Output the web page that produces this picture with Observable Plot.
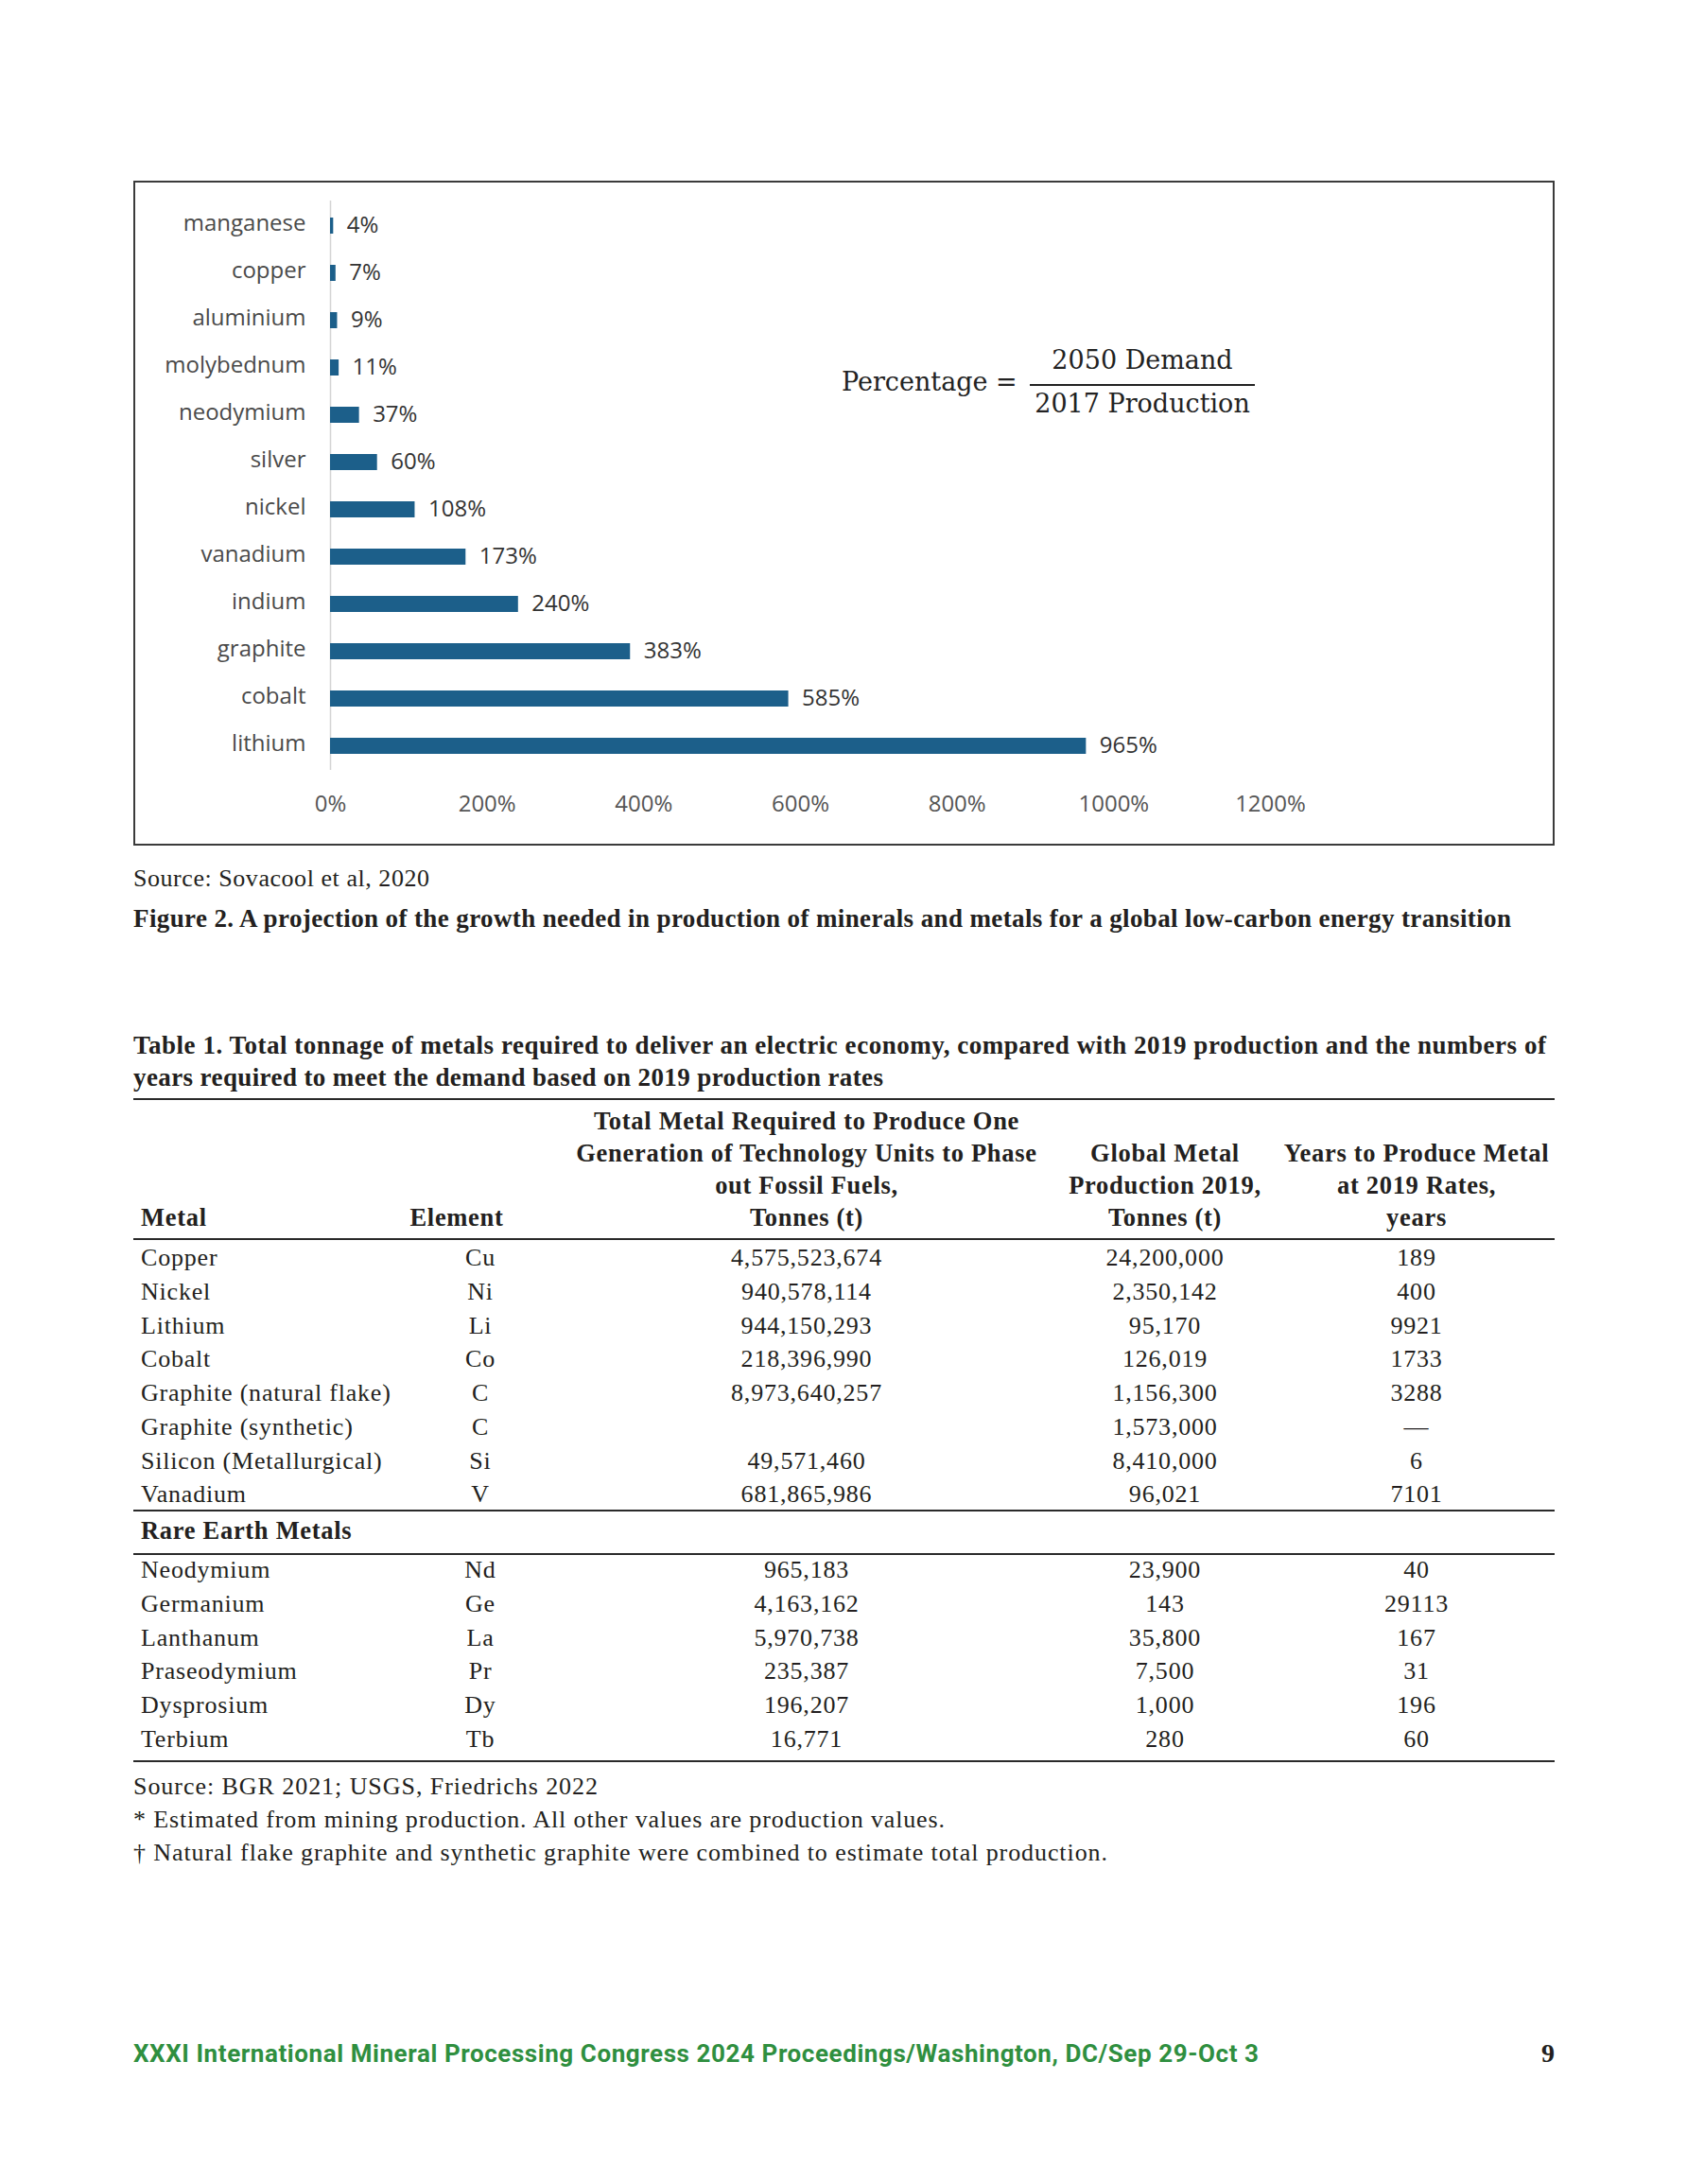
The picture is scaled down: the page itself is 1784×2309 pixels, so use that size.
<!DOCTYPE html>
<html><head><meta charset="utf-8">
<script src="https://cdn.jsdelivr.net/npm/d3@7"></script>
<script src="https://cdn.jsdelivr.net/npm/@observablehq/plot@0.6"></script>
<style>
html,body{margin:0;padding:0;background:#fff;}
#page{position:relative;width:1784px;height:2309px;overflow:hidden;background:#fff;}
#chartbox{position:absolute;left:141px;top:191px;width:1503px;height:703px;border:2px solid #3b3b3b;box-sizing:border-box;}
#chart{position:absolute;left:0;top:0;}
#overlay{position:absolute;left:0;top:0;pointer-events:none;}
</style></head><body>
<div id="page"><div id="chartbox"><div id="chart"></div></div><svg id="overlay" width="1784" height="2309"></svg></div>
<script>
// ---- Chart data (Figure 2) ----
const minerals = ["manganese","copper","aluminium","molybednum","neodymium","silver","nickel","vanadium","indium","graphite","cobalt","lithium"];
const percentages = [4,7,9,11,37,60,108,173,240,383,585,965];
const xTicks = [0,200,400,600,800,1000,1200];

// ---- Table 1 data ----
const metals = ["Copper","Nickel","Lithium","Cobalt","Graphite (natural flake)","Graphite (synthetic)","Silicon (Metallurgical)","Vanadium"];
const elements = ["Cu","Ni","Li","Co","C","C","Si","V"];
const totalRequired = [4575523674,940578114,944150293,218396990,8973640257,null,49571460,681865986];
const production2019 = [24200000,2350142,95170,126019,1156300,1573000,8410000,96021];
const yearsToProduce = [189,400,9921,1733,3288,null,6,7101];
const rareMetals = ["Neodymium","Germanium","Lanthanum","Praseodymium","Dysprosium","Terbium"];
const rareElements = ["Nd","Ge","La","Pr","Dy","Tb"];
const rareTotal = [965183,4163162,5970738,235387,196207,16771];
const rareProduction = [23900,143,35800,7500,1000,280];
const rareYears = [40,29113,167,31,196,60];

const chartData = minerals.map((m,i)=>({mineral:m, pct:percentages[i]}));

const plot = Plot.plot({
  width: 1499, height: 699,
  marginLeft: 206, marginRight: 299, marginTop: 19, marginBottom: 78,
  style: {fontFamily: "'Open Sans', sans-serif", fontSize: "24px", color: "#404040", background: "transparent"},
  x: {domain: [0, 1200], axis: null},
  y: {domain: minerals, paddingInner: 0.66, paddingOuter: 0.3, axis: null},
  marks: [
    Plot.ruleX([0], {stroke: "#d4d4d4", strokeWidth: 1.5}),
    Plot.barX(chartData, {x: "pct", y: "mineral", fill: "#1c5f8a"}),
    Plot.text(chartData, {x: "pct", y: "mineral", text: d => d.pct + "%", textAnchor: "start", dx: 14, dy: -1, fill: "#333", fontSize: 24}),
    Plot.axisY({tickSize: 0, tickPadding: 26, dy: -3, label: null, fontSize: 24, color: "#4a4a4a"}),
    Plot.axisX({ticks: xTicks, tickFormat: d => d + "%", tickSize: 0, tickPadding: 26, label: null, fontSize: 24, color: "#555"})
  ]
});
document.getElementById("chart").appendChild(plot);

// ---- Page text overlay ----
const ns = "http://www.w3.org/2000/svg";
const ov = document.getElementById("overlay");
const SERIF = "'Liberation Serif', 'Times New Roman', serif";
function txt(x, y, s, o = {}) {
  const t = document.createElementNS(ns, "text");
  t.setAttribute("x", x); t.setAttribute("y", y);
  t.setAttribute("font-family", o.family || SERIF);
  t.setAttribute("font-size", o.size || 26);
  t.setAttribute("font-weight", o.weight || "normal");
  t.setAttribute("fill", o.fill || "#231f20");
  t.setAttribute("text-anchor", o.anchor || "start");
  if (o.ls) t.setAttribute("letter-spacing", o.ls);
  t.textContent = s;
  ov.appendChild(t);
  if (o.fit) {
    // spread letters so the line spans the measured width of the original
    const natural = t.getComputedTextLength();
    const n = Math.max(1, s.length - 1);
    const ls = Math.max(-1, Math.min(3, (o.fit - natural) / n));
    t.setAttribute("letter-spacing", ls.toFixed(3));
  }
  return t;
}
function line(x1, y1, x2, y2, w = 2, c = "#2a2a2a") {
  const l = document.createElementNS(ns, "line");
  l.setAttribute("x1", x1); l.setAttribute("y1", y1); l.setAttribute("x2", x2); l.setAttribute("y2", y2);
  l.setAttribute("stroke", c); l.setAttribute("stroke-width", w);
  ov.appendChild(l);
}

// Formula inside chart
const FSERIF = "'DejaVu Serif', serif";
txt(890, 413, "Percentage =", {family: FSERIF, size: 27, fill: "#222"});
txt(1208, 390, "2050 Demand", {family: FSERIF, size: 27, fill: "#222", anchor: "middle"});
line(1089, 407, 1327, 407, 2, "#222");
txt(1208, 436, "2017 Production", {family: FSERIF, size: 27, fill: "#222", anchor: "middle"});

// Figure source and caption
txt(141, 937, "Source: Sovacool et al, 2020", {size: 26, fit: 313});
txt(141, 980, "Figure 2. A projection of the growth needed in production of minerals and metals for a global low-carbon energy transition", {size: 27, weight: "bold", fit: 1457});

// Table title
txt(141, 1114, "Table 1. Total tonnage of metals required to deliver an electric economy, compared with 2019 production and the numbers of", {size: 27, weight: "bold", fit: 1494});
txt(141, 1148, "years required to meet the demand based on 2019 production rates", {size: 27, weight: "bold", fit: 793});

const X0 = 141, X1 = 1644;
line(X0, 1162, X1, 1162);

// Header
const colMetal = 149, colElem = 508, colTotal = 853, colProd = 1232, colYears = 1498;
const hb = [1194, 1228, 1262, 1296];
const H = {size: 26.5, weight: "bold", ls: 0.7};
txt(colMetal, hb[3], "Metal", H);
txt(483, hb[3], "Element", {...H, anchor: "middle"});
["Total Metal Required to Produce One", "Generation of Technology Units to Phase", "out Fossil Fuels,", "Tonnes (t)"].forEach((s, i) => txt(colTotal, hb[i], s, {...H, anchor: "middle"}));
["Global Metal", "Production 2019,", "Tonnes (t)"].forEach((s, i) => txt(colProd, hb[i + 1], s, {...H, anchor: "middle"}));
["Years to Produce Metal", "at 2019 Rates,", "years"].forEach((s, i) => txt(colYears, hb[i + 1], s, {...H, anchor: "middle"}));
line(X0, 1310, X1, 1310);

const fmt = d3.format(",");
const B = {size: 26, ls: 0.8};
function row(y, m, e, t, p, yr) {
  txt(colMetal, y, m, B);
  txt(colElem, y, e, {...B, anchor: "middle"});
  if (t != null) txt(colTotal, y, fmt(t), {...B, anchor: "middle"});
  txt(colProd, y, fmt(p), {...B, anchor: "middle"});
  txt(colYears, y, yr == null ? "\u2014" : String(yr), {...B, anchor: "middle"});
}
const rowStep = 35.75;
metals.forEach((m, i) => row(1338 + i * rowStep, m, elements[i], totalRequired[i], production2019[i], yearsToProduce[i]));
line(X0, 1597, X1, 1597);
txt(colMetal, 1627, "Rare Earth Metals", {size: 26.5, weight: "bold", ls: 0.7});
line(X0, 1643, X1, 1643);
rareMetals.forEach((m, i) => row(1668 + i * rowStep, m, rareElements[i], rareTotal[i], rareProduction[i], rareYears[i]));
line(X0, 1862, X1, 1862);

// Notes
txt(141, 1897, "Source: BGR 2021; USGS, Friedrichs 2022", {size: 26, fit: 491});
txt(141, 1932, "* Estimated from mining production. All other values are production values.", {size: 26, fit: 858});
txt(141, 1967, "\u2020 Natural flake graphite and synthetic graphite were combined to estimate total production.", {size: 26, fit: 1030});

// Footer
txt(141, 2180, "XXXI International Mineral Processing Congress 2024 Proceedings/Washington, DC/Sep 29-Oct 3", {family: "Roboto, 'Open Sans', sans-serif", size: 26, weight: "bold", fill: "#2f8f3f", fit: 1190});
txt(1644, 2180, "9", {size: 28, weight: "bold", anchor: "end", fill: "#231f20"});
</script>
</body></html>
